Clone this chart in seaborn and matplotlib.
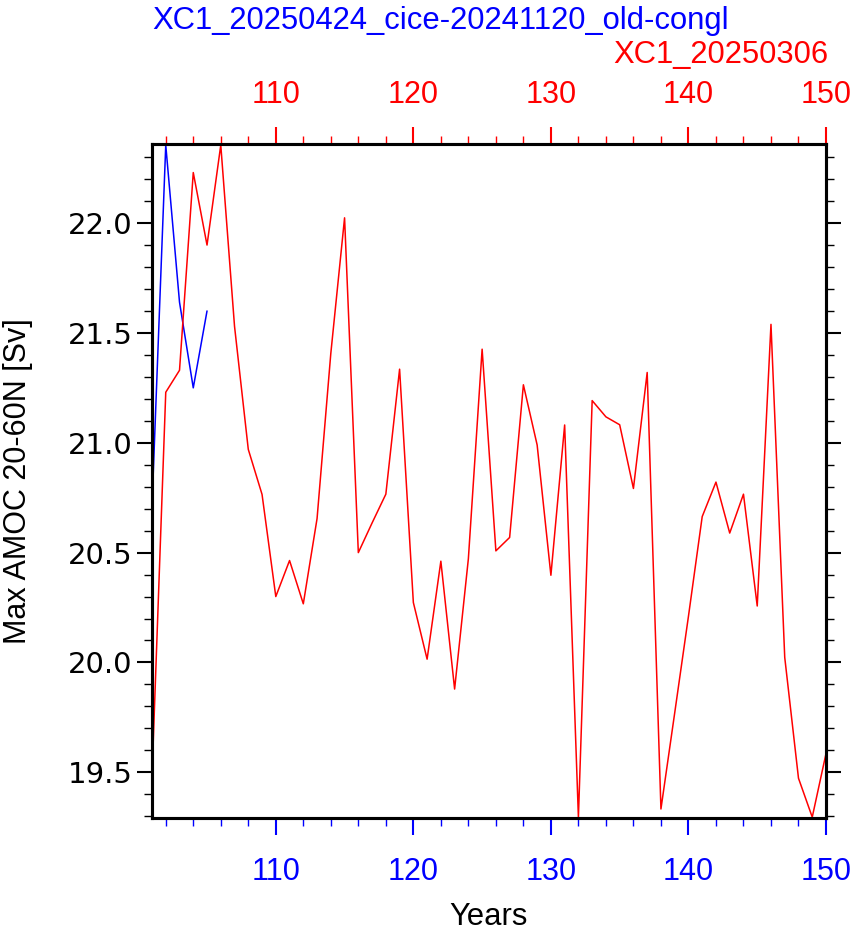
import numpy as np
import pandas as pd
import matplotlib
matplotlib.use("Agg")
import matplotlib.pyplot as plt
import seaborn as sns
from matplotlib.ticker import MultipleLocator

# ---- data ----
years_red = list(range(101, 151))
amoc_red = [19.48, 21.23, 21.33, 22.23, 21.90, 22.355, 21.53, 20.97, 20.765, 20.30,
            20.464, 20.267, 20.655, 21.407, 22.024, 20.50, 20.635, 20.766, 21.335, 20.273,
            20.015, 20.461, 19.879, 20.472, 21.426, 20.508, 20.569, 21.264, 20.99, 20.397,
            21.081, 19.295, 21.192, 21.118, 21.082, 20.792, 21.32, 19.333, 19.77, 20.21,
            20.664, 20.821, 20.589, 20.766, 20.257, 21.539, 20.023, 19.473, 19.296, 19.585]
years_blue = [101, 102, 103, 104, 105]
amoc_blue = [20.71, 22.355, 21.64, 21.25, 21.60]

name_blue = "XC1_20250424_cice-20241120_old-congl"
name_red = "XC1_20250306"
xlabel = "Years"
ylabel = "Max AMOC 20-60N [Sv]"
xticks = [110, 120, 130, 140, 150]
yticks = [19.5, 20.0, 20.5, 21.0, 21.5, 22.0]

sns.set_style("white")
plt.rcParams['font.family'] = ['Liberation Sans', 'DejaVu Sans']

W, H = 855, 932
fig = plt.figure(figsize=(W / 100, H / 100), dpi=100)
L, R, T, B = 152, 826, 144, 818
ax = fig.add_axes([L / W, 1 - B / H, (R - L) / W, (B - T) / H])

df_blue = pd.DataFrame({"year": years_blue, "amoc": amoc_blue})
df_red = pd.DataFrame({"year": years_red, "amoc": amoc_red})

sns.lineplot(data=df_blue, x="year", y="amoc", ax=ax, color="#0000ff", linewidth=1.1)
ax2 = ax.twiny()
sns.lineplot(data=df_red, x="year", y="amoc", ax=ax2, color="#ff0000", linewidth=1.1)

for a in (ax, ax2):
    a.set_xlim(101, 150)
    a.set_xlabel("")
    a.set_ylabel("")
    a.set_xticks(xticks)
    a.xaxis.set_minor_locator(MultipleLocator(2))
    for s in a.spines.values():
        s.set_linewidth(2.2)
        s.set_color("black")
ax.set_ylim(19.292, 22.36)
ax.set_yticks(yticks)
ax.set_yticklabels([f"{v:.1f}" for v in yticks], fontfamily='DejaVu Sans')
ax.yaxis.set_minor_locator(MultipleLocator(0.1))

ax.tick_params(axis='x', which='major', direction='out', length=12.2, width=1.5,
               colors='#0000ff', labelsize=22, pad=16, top=False, bottom=True)
ax.tick_params(axis='x', which='minor', direction='out', length=5.8, width=1.0,
               colors='#0000ff', top=False, bottom=True)
ax2.tick_params(axis='x', which='major', direction='out', length=12.2, width=1.5,
                colors='#ff0000', labelsize=22, pad=12, top=True, bottom=False)
ax2.tick_params(axis='x', which='minor', direction='out', length=5.8, width=1.0,
                colors='#ff0000', top=True, bottom=False)
ax.tick_params(axis='y', which='major', direction='out', length=11, width=1.5,
               color='black', labelcolor='black', labelsize=21, pad=3,
               left=True, right=True, labelleft=True, labelright=False)
ax.tick_params(axis='y', which='minor', direction='out', length=5.8, width=1.0,
               color='black', left=True, right=True)

fig.text(152 / W, 1 - 28.5 / H, name_blue, color='#0000ff', fontsize=22.3,
         ha='left', va='baseline')
fig.text(828 / W, 1 - 63.3 / H, name_red, color='#ff0000', fontsize=22.3,
         ha='right', va='baseline')
fig.text(488.5 / W, 1 - 925 / H, xlabel, color='black', fontsize=22.3,
         ha='center', va='baseline')
fig.text(18 / W, 1 - 481 / H, ylabel, color='black', fontsize=22,
         ha='center', va='center', rotation=90)

fig.savefig("out.png", dpi=100)
